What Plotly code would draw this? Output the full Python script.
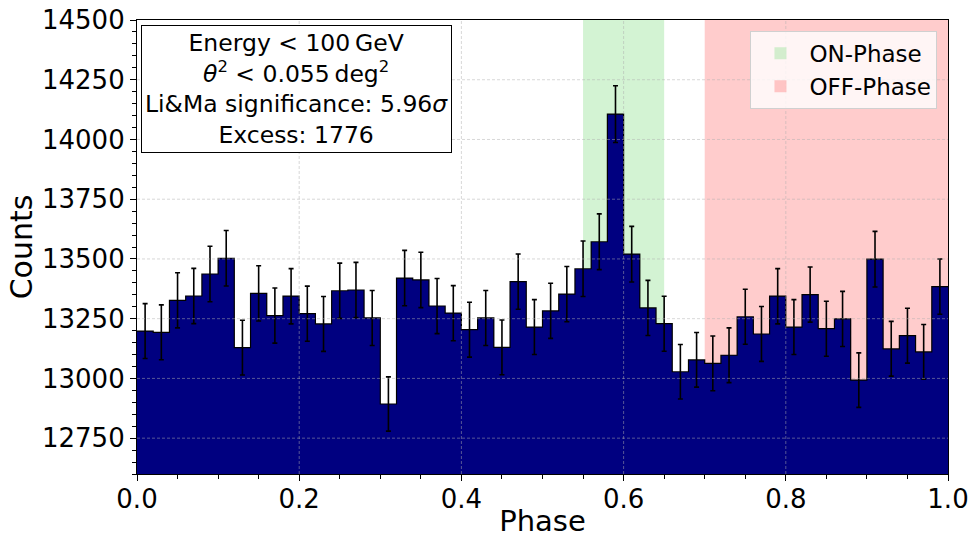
import numpy as np
import plotly.graph_objects as go

# ---------------- data ----------------
bin_edges_start = 0.0
bin_width = 0.02
counts = [13198, 13193, 13327, 13345, 13437, 13503, 13129, 13356, 13263, 13344,
          13271, 13228, 13367, 13370, 13253, 12893, 13420, 13412, 13303, 13273,
          13204, 13253, 13130, 13405, 13215, 13283, 13353, 13459, 13572, 14106,
          13520, 13295, 13229, 13028, 13078, 13063, 13097, 13258, 13186, 13344,
          13215, 13351, 13208, 13249, 12993, 13499, 13124, 13179, 13111, 13384]
on_phase = [0.55, 0.65]
off_phase = [0.70, 1.00]
info_lines = ["Energy &lt; 100\u2009GeV",
              "<i>\u03b8</i><sup>2</sup> &lt; 0.055\u2009deg<sup>2</sup>",
              "Li&amp;Ma significance: 5.96<i>\u03c3</i>",
              "Excess: 1776"]
y_range = [12600, 14500]
x_range = [0.0, 1.0]
y_ticks = [12750, 13000, 13250, 13500, 13750, 14000, 14250, 14500]
x_ticks = [0.0, 0.2, 0.4, 0.6, 0.8, 1.0]

counts = np.array(counts, dtype=float)
edges = bin_edges_start + bin_width * np.arange(len(counts) + 1)
centers = 0.5 * (edges[:-1] + edges[1:])
errors = np.sqrt(counts)

FONT = "DejaVu Sans"
fig = go.Figure()

fig.add_trace(go.Bar(
    x=centers, y=counts, width=bin_width,
    marker=dict(color="#000080", line=dict(width=0)),
    showlegend=False, name="Counts", hoverinfo="skip"))

# outline of histogram (step)
fig.add_trace(go.Scatter(
    x=edges, y=np.append(counts, counts[-1]), mode="lines",
    line=dict(color="black", width=1.2, shape="hv"),
    showlegend=False, hoverinfo="skip"))

# error bars
fig.add_trace(go.Scatter(
    x=centers, y=counts, mode="markers", marker=dict(size=0.1, color="rgba(0,0,0,0)"),
    error_y=dict(type="data", array=errors, visible=True,
                 color="black", thickness=1.6, width=2.5),
    showlegend=False, name="Counts"))

shapes = []
# shaded phase regions (below bars, shown in legend)
for rng, col, name in [(on_phase, "rgba(144,226,144,0.4)", "ON-Phase"),
                       (off_phase, "rgba(255,0,0,0.2)", "OFF-Phase")]:
    shapes.append(dict(type="rect", xref="x", yref="paper", x0=rng[0], x1=rng[1], y0=0, y1=1,
                       fillcolor=col, line=dict(width=0), layer="below",
                       showlegend=True, name=name))

# dashed grid drawn above bars (as in reference)
grid_col = "rgba(176,176,176,0.55)"
for xv in x_ticks[1:-1]:
    shapes.append(dict(type="line", xref="x", yref="paper", x0=xv, x1=xv, y0=0, y1=1,
                       line=dict(color=grid_col, width=0.9, dash="3px,2px"), layer="above"))
for yv in y_ticks[:-1]:
    shapes.append(dict(type="line", xref="paper", yref="y", x0=0, x1=1, y0=yv, y1=yv,
                       line=dict(color=grid_col, width=0.9, dash="3px,2px"), layer="above"))

fig.update_layout(
    width=970, height=538,
    margin=dict(l=137, r=22, t=20, b=64, autoexpand=False),
    paper_bgcolor="white", plot_bgcolor="white",
    font=dict(family=FONT, color="black"),
    barmode="overlay", bargap=0,
    shapes=shapes,
    showlegend=True,
    legend=dict(x=0.987, y=0.976, xanchor="right", yanchor="top",
                bgcolor="rgba(255,255,255,0.8)", bordercolor="#d0d0d0", borderwidth=1,
                font=dict(size=23, family=FONT), itemwidth=48, tracegroupgap=2),
    annotations=[dict(
        xref="paper", yref="paper", x=0.0045, y=0.99, xanchor="left", yanchor="top",
        text="<br>".join(info_lines), showarrow=False, align="center",
        font=dict(size=23.5, family=FONT, color="black"),
        bgcolor="white", bordercolor="black", borderwidth=1, borderpad=3)],
)

fig.update_xaxes(
    range=x_range, tickvals=x_ticks, ticktext=[f"{v:.1f}" for v in x_ticks],
    showgrid=False, zeroline=False, automargin=False,
    showline=True, linecolor="black", linewidth=1.2, mirror=True,
    ticks="outside", ticklen=6, tickwidth=1.2, tickcolor="black",
    ticklabelstandoff=-4,
    minor=dict(dtick=0.05, ticks="outside", ticklen=3.5, tickcolor="black", showgrid=False),
    tickfont=dict(size=26, family=FONT),
    title=dict(text="Phase", font=dict(size=29, family=FONT), standoff=2),
)
fig.update_yaxes(
    range=y_range, tickvals=y_ticks, ticktext=[str(v) for v in y_ticks],
    showgrid=False, zeroline=False, automargin=False,
    showline=True, linecolor="black", linewidth=1.2, mirror=True,
    ticks="outside", ticklen=6, tickwidth=1.2, tickcolor="black",
    minor=dict(tick0=12600, dtick=50, ticks="outside", ticklen=3.5, tickcolor="black", showgrid=False),
    tickfont=dict(size=26, family=FONT),
    title=dict(text="Counts", font=dict(size=30, family=FONT), standoff=0),
)

fig.write_html("out.html")
